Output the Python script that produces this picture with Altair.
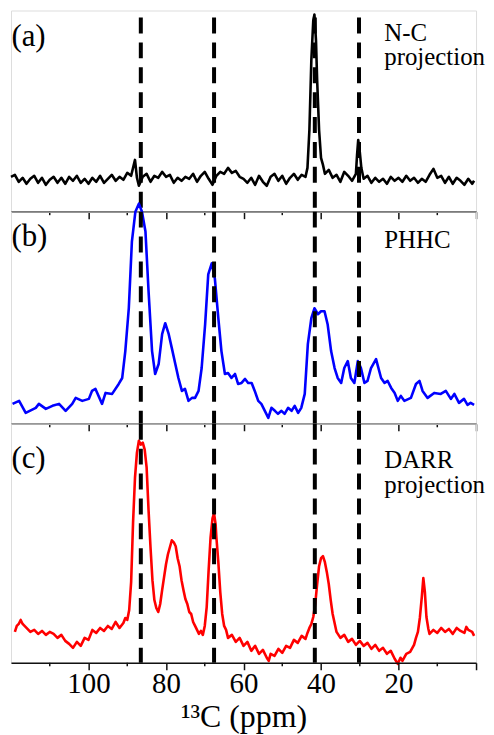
import altair as alt
import pandas as pd

FONT = "Liberation Serif, Times New Roman, Times, DejaVu Serif, serif"

# dashed reference lines (ppm)
ref_ppm = [86.5, 67.6, 41.6, 30.2]

# x axis ticks
major_ticks = [100, 80, 60, 40, 20, 0]
minor_ticks = [110, 90, 70, 50, 30, 10]
label_vals = [100, 80, 60, 40, 20]

# (a) N-C projection
a_ppm = [120, 119, 118, 117, 116, 115, 114, 113, 112, 111, 110, 109, 108, 107, 106, 105, 104,
         103, 102, 101, 100, 99, 98, 97, 96, 95, 94, 93, 92, 91, 90, 89, 88, 87.5, 87, 86, 85,
         84, 83, 82, 81, 80, 79, 78, 77, 76, 75, 74, 73, 72, 71, 70, 69, 68, 67, 66, 65, 64,
         63, 62, 61, 60, 59, 58, 57, 56, 55, 54, 53, 52, 51, 50, 49, 48, 47, 46, 45, 44, 43.5,
         43, 42.5, 42, 41.7, 41.3, 41, 40.5, 40, 39.5, 39, 38, 37, 36, 35, 34, 33, 32, 31, 30.7,
         30.4, 30, 29.6, 29, 28, 27, 26, 25, 24, 23, 22, 21, 20, 19, 18, 17, 16, 15, 14, 13,
         12, 11, 10, 9, 8, 7, 6, 5, 4, 3, 2, 1, 0.5]
a_int = [3, 5, -2, 2, -4, 1, 4, -3, 2, -5, 0, 3, -3, 2, -4, 3, -1,
         4, -3, 1, -4, 2, -2, 4, -3, 1, 5, -1, 3, 0, 7, 4, 20, 2, -6, 3, 6,
         -2, 4, 2, 8, 3, 5, -3, 2, -1, 3, 1, 6, -2, 4, 8, 1, -5, 4, 8, 6, 12,
         7, 9, 3, 1, -3, 2, -5, 4, -2, -6, 3, 6, -1, 4, -4, 2, 6, 0, 5, 3, 12,
         50, 120, 160, 166, 140, 100, 50, 22, 15, 6, 10, 2, 5, -2, 8, 4, -1, 6, 25,
         40, 28, 12, 1, 4, -3, 2, -2, 1, -4, 3, -1, 2, -2, 4, -1, 2, -3, 1, -2,
         5, 11, 2, 4, -3, 3, -4, 2, -1, -5, 1, -4, -1]

# (b) PHHC
b_ppm = [119.6, 117.9, 116.2, 113.6, 112.8, 111.0, 109.3, 107.6, 105.9, 104.2, 103.3, 101.6,
         99.9, 99.1, 98.2, 96.5, 95.6, 93.9, 92.2, 91.3, 90.5, 89.6, 88.8, 87.9, 87.0, 86.2,
         85.3, 84.5, 83.6, 82.8, 81.9, 81.0, 80.2, 79.3, 78.5, 77.6, 76.8, 75.9, 75.1, 74.2,
         73.3, 72.5, 71.6, 70.8, 69.9, 69.1, 68.2, 67.4, 66.5, 65.7, 64.8, 64.0, 63.1, 62.2,
         61.4, 60.5, 59.6, 58.8, 57.9, 57.1, 56.2, 55.4, 54.5, 53.6, 52.8, 51.9, 51.1, 50.2,
         49.4, 48.5, 47.6, 46.8, 45.9, 45.1, 44.2, 43.4, 42.5, 41.7, 40.8, 40.0, 39.1, 38.3,
         37.4, 36.5, 35.7, 34.8, 34.0, 33.1, 32.3, 31.4, 30.5, 29.7, 28.8, 28.0, 27.1, 25.8,
         24.5, 23.6, 22.8, 21.9, 21.0, 20.2, 19.4, 18.5, 16.8, 15.5, 14.6, 13.8, 12.5, 10.8,
         9.1, 7.8, 6.5, 5.6, 4.4, 3.1, 2.2, 1.4, 0.5]
b_int = [0, 3, -9, -4, 0, -5, -2, 0, -7, 0, 6, 3,
         5, 13, 15, 0, 11, 10, 20, 26, 53, 96, 163, 193, 201, 193,
         173, 113, 53, 30, 40, 70, 81, 70, 56, 40, 26, 13, 15, 3,
         6, 6, 13, 36, 80, 130, 141, 126, 86, 53, 30, 31, 26, 30,
         20, 21, 25, 21, 21, 13, 3, 0, -7, -14, -4, -7, -10, -7,
         -10, -4, -7, -2, -9, -4, 10, 60, 86, 96, 90, 93, 93, 80,
         53, 36, 26, 21, 36, 43, 26, 21, 43, 36, 21, 23, 36, 45,
         26, 21, 23, 16, 11, 3, 8, 3, 6, 20, 23, 13, 6, 11,
         10, 13, 5, 10, 1, 5, -1, 1, -1]

# (c) DARR projection
c_ppm = [119, 118.5, 118, 117.5, 117, 116, 115, 114, 113, 112, 111, 110, 109, 108, 107, 106,
         105, 104, 103, 102, 101, 100, 99, 98, 97, 96, 95, 94, 93, 92, 91, 90.5, 90, 89.5, 89,
         88.5, 88, 87.5, 87, 86.5, 86, 85.5, 85, 84.5, 84, 83.5, 83, 82.5, 82, 81.5, 81, 80.5,
         80, 79.5, 79, 78.5, 78, 77.5, 77, 76.5, 76, 75.5, 75, 74.5, 74, 73.5, 73, 72.5, 72,
         71.5, 71, 70.5, 70, 69.5, 69, 68.5, 68, 67.6, 67.2, 67, 66.5, 66, 65.5, 65, 64.5, 64,
         63, 62, 61, 60, 59, 58, 57, 56, 55, 54, 53.5, 53, 52, 51, 50, 49, 48, 47, 46, 45, 44,
         43.5, 43, 42.5, 42, 41.5, 41, 40.5, 40, 39.5, 39, 38.5, 38, 37.5, 37, 36.5, 36, 35, 34,
         33, 32, 31, 30, 29, 28, 27, 26, 25, 24, 23, 22, 21, 20.2, 19.5, 19, 18, 17, 16, 15.5,
         15, 14.5, 14, 13.6, 13.2, 12.8, 12.3, 12, 11, 10, 9, 8, 7, 6, 5, 4, 3, 2.5, 2, 1, 0.5]
c_int = [0, 6, 8, 12, 8, 4, 0, 2, -2, 1, -3, 0, -2, -6, -3, -9,
         -12, -16, -10, -14, -6, -8, 2, -1, 4, 1, 6, 3, 10, 4, 9, 14, 12, 22, 50,
         110, 155, 180, 192, 188, 190, 183, 165, 122, 85, 52, 32, 24, 20, 28, 42, 55,
         68, 78, 85, 92, 90, 86, 74, 66, 52, 42, 33, 28, 20, 18, 10, 6, 2,
         -2, 1, -3, 6, 25, 62, 95, 114, 119, 108, 95, 70, 40, 18, 6, 2, -6,
         -3, -10, -6, -14, -10, -19, -14, -22, -18, -26, -29, -22, -24, -17, -21, -14, -16, -8, -11, -4, -7,
         -1, 4, 8, 15, 28, 48, 66, 74, 76, 70, 60, 48, 32, 18, 9, 0, -6, -3,
         -10, -7, -13, -9, -14, -11, -17, -13, -19, -16, -22, -19, -27, -32, -26, -29, -22, -20, -13, -6,
         0, 14, 35, 54, 40, 15, 3, -2, 2, -1, 4, 0, 3, -2, 4, 1, -1, 5, 2, 0, -4]

assert len(a_ppm) == len(a_int)
assert len(b_ppm) == len(b_int)
assert len(c_ppm) == len(c_int)

# panel labels / annotations: (ppm, intensity, text)
a_tags = {"ppm": [119.9], "val": [134], "txt": ["(a)"]}
a_notes = {"ppm": [23.7, 23.7], "val": [139, 115], "txt": ["N-C", "projection"]}
b_tags = {"ppm": [119.9], "val": [159], "txt": ["(b)"]}
b_notes = {"ppm": [23.7], "val": [157], "txt": ["PHHC"]}
c_tags = {"ppm": [119.9], "val": [165], "txt": ["(c)"]}
c_notes = {"ppm": [23.7, 23.7], "val": [165, 139], "txt": ["DARR", "projection"]}

x_scale = alt.Scale(domain=[120, 0], nice=False, zero=False)
label_list = ",".join(str(v) for v in label_vals)
AXIS_COLOR = "#111111"


def make_axis(show_labels):
    common = dict(
        values=major_ticks,
        grid=False,
        domainColor=AXIS_COLOR,
        domainWidth=1.6,
        tickColor=AXIS_COLOR,
        tickWidth=1.5,
        tickSize=7,
        zindex=1,
        labelFont=FONT, labelFontSize=29, labelColor="black", labelPadding=0,
    )
    if show_labels:
        return alt.Axis(
            title="¹³C (ppm)",
            labelExpr=f"indexof([{label_list}], datum.value) >= 0 ? datum.label : ''",
            titleFont=FONT, titleFontSize=32, titleFontWeight="normal", titleColor="black",
            titlePadding=3,
            **common,
        )
    return alt.Axis(title="", labelExpr="''", **common)


def panel(ppm, vals, color, lw, ydom, height, tags, notes, show_labels, rule_top=None):
    df = pd.DataFrame({"ppm": ppm, "val": vals})
    y_scale = alt.Scale(domain=ydom, nice=False, zero=False)
    ax = make_axis(show_labels)
    xenc = alt.X("ppm:Q", scale=x_scale, axis=ax)
    line = alt.Chart(df).mark_line(color=color, strokeWidth=lw, strokeJoin="round").encode(
        x=xenc,
        y=alt.Y("val:Q", scale=y_scale, axis=None),
        order="idx:Q",
    ).transform_window(idx="row_number()")
    rdf = pd.DataFrame({"ppm": ref_ppm})
    renc = dict(x=xenc)
    if rule_top is not None:
        renc["y"] = alt.value(rule_top)
        renc["y2"] = alt.value(height)
    rules = alt.Chart(rdf).mark_rule(color="black", strokeWidth=4, strokeDash=[16, 9]).encode(**renc)
    minor = alt.Chart(pd.DataFrame({"ppm": minor_ticks})).mark_rule(
        color=AXIS_COLOR, strokeWidth=1.5
    ).encode(x=xenc, y=alt.value(height), y2=alt.value(height + 3.5))
    tag = alt.Chart(pd.DataFrame(tags)).mark_text(
        font=FONT, fontSize=31, align="left", baseline="alphabetic", color="black"
    ).encode(x=xenc, y=alt.Y("val:Q", scale=y_scale, axis=None), text="txt:N")
    note = alt.Chart(pd.DataFrame(notes)).mark_text(
        font=FONT, fontSize=25, align="left", baseline="alphabetic", color="black"
    ).encode(x=xenc, y=alt.Y("val:Q", scale=y_scale, axis=None), text="txt:N")
    return alt.layer(line, rules, minor, tag, note).properties(width=467, height=height)


pa = panel(a_ppm, a_int, "black", 2.6, [-32, 170], 202, a_tags, a_notes, False, rule_top=7)
pb = panel(b_ppm, b_int, "#0000ff", 2.6, [-20, 193], 213, b_tags, b_notes, False)
pc = panel(c_ppm, c_int, "#ff0000", 2.6, [-31, 209], 240, c_tags, c_notes, True)

chart = alt.vconcat(pa, pb, pc, spacing=0, bounds="flush").properties(
    padding={"left": 1, "top": 0, "right": 0, "bottom": 0}
).configure_view(stroke="transparent").configure(font=FONT)

chart.save("out.html", embed_options={"renderer": "svg", "actions": False})
